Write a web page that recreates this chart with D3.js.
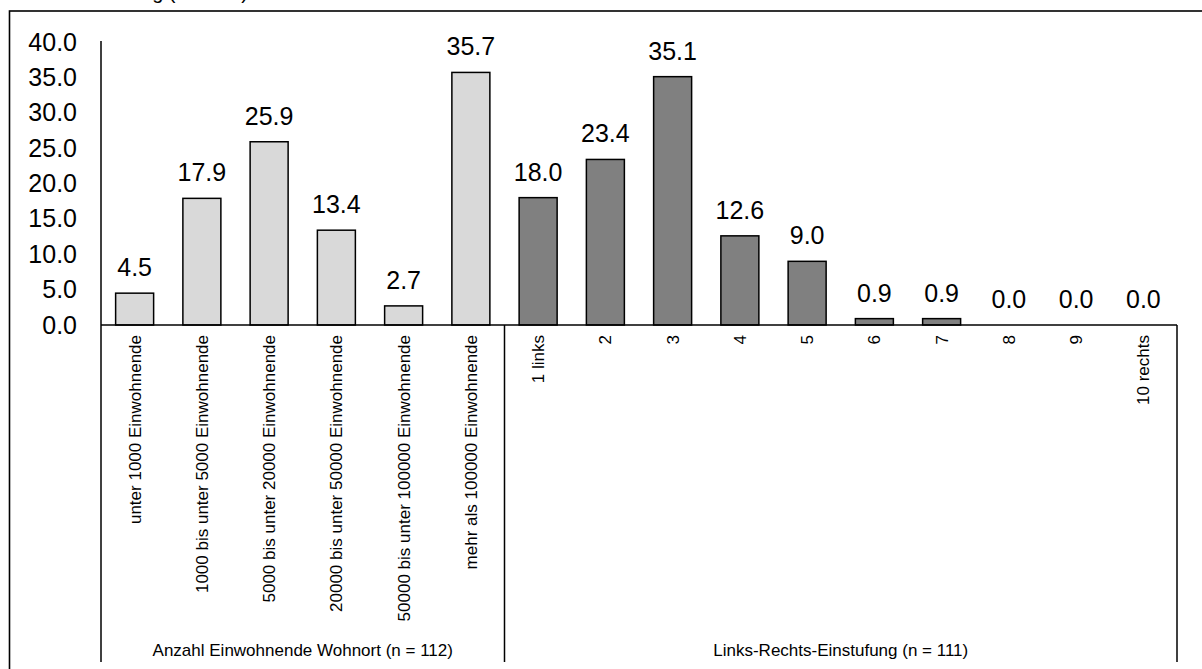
<!DOCTYPE html>
<html>
<head>
<meta charset="utf-8">
<script src="https://cdn.jsdelivr.net/npm/d3@7"></script>
<style>
  html, body { margin: 0; padding: 0; background: #fff; }
  svg { display: block; font-family: Arial, "Liberation Sans", sans-serif; }
</style>
</head>
<body>
<svg id="chart" width="1202" height="669"></svg>
<script>
// Share of respondents (%) by size of place of residence and left-right self-placement
const titleText = "Verteilung (n = 112)";

const wohnortLabel = "Anzahl Einwohnende Wohnort (n = 112)";
const wohnortCategories = [
  "unter 1000 Einwohnende",
  "1000 bis unter 5000 Einwohnende",
  "5000 bis unter 20000 Einwohnende",
  "20000 bis unter 50000 Einwohnende",
  "50000 bis unter 100000 Einwohnende",
  "mehr als 100000 Einwohnende"
];
const wohnortValues = [4.5, 17.9, 25.9, 13.4, 2.7, 35.7];

const einstufungLabel = "Links-Rechts-Einstufung (n = 111)";
const einstufungCategories = ["1 links", "2", "3", "4", "5", "6", "7", "8", "9", "10 rechts"];
const einstufungValues = [18.0, 23.4, 35.1, 12.6, 9.0, 0.9, 0.9, 0.0, 0.0, 0.0];

const yTicks = [0, 5, 10, 15, 20, 25, 30, 35, 40];

const groups = [
  { label: wohnortLabel, cats: wohnortCategories, vals: wohnortValues, fill: "#d9d9d9" },
  { label: einstufungLabel, cats: einstufungCategories, vals: einstufungValues, fill: "#808080" }
];

const rows = [];
groups.forEach((g, gi) => {
  g.cats.forEach((c, i) => rows.push({ key: gi + ":" + i, cat: c, value: g.vals[i], group: gi, fill: g.fill }));
});

const svg = d3.select("#chart");
const plotLeft = 101, plotRight = 1177, baseY = 325, topY = 42, axisBottomY = 662;

const x = d3.scaleBand()
  .domain(rows.map(d => d.key))
  .range([plotLeft, plotRight])
  .paddingInner(0.435)
  .paddingOuter(0.2175);

const y = d3.scaleLinear().domain([0, 40]).range([baseY, topY]);

// outer chart frame
svg.append("rect")
  .attr("x", 9.5).attr("y", 11)
  .attr("width", 1300).attr("height", 700)
  .attr("fill", "none").attr("stroke", "#000").attr("stroke-width", 1.6);

// title sitting above the frame, mostly outside the page
svg.append("text")
  .attr("x", 248).attr("y", -1)
  .attr("text-anchor", "end")
  .attr("font-size", 20)
  .attr("fill", "#000")
  .text(titleText);

// y axis
const yAxis = svg.append("g")
  .attr("transform", `translate(${plotLeft},0)`)
  .call(d3.axisLeft(y).tickValues(yTicks).tickSize(0).tickPadding(24).tickFormat(d3.format(".1f")));
yAxis.select(".domain").remove();
yAxis.selectAll("text")
  .attr("font-size", 25)
  .attr("font-family", "Arial, 'Liberation Sans', sans-serif")
  .attr("fill", "#000");

// bars
svg.append("g").selectAll("rect")
  .data(rows)
  .join("rect")
  .attr("x", d => x(d.key))
  .attr("y", d => y(d.value))
  .attr("width", x.bandwidth())
  .attr("height", d => y(0) - y(d.value))
  .attr("fill", d => d.fill)
  .attr("stroke", "#000")
  .attr("stroke-width", 1.5);

// value labels
svg.append("g").selectAll("text")
  .data(rows)
  .join("text")
  .attr("x", d => x(d.key) + x.bandwidth() / 2)
  .attr("y", d => y(d.value) - 17)
  .attr("text-anchor", "middle")
  .attr("font-size", 25)
  .attr("fill", "#000")
  .text(d => d3.format(".1f")(d.value));

// category axis
const catMap = new Map(rows.map(d => [d.key, d.cat]));
const xAxis = svg.append("g")
  .attr("transform", `translate(0,${baseY})`)
  .call(d3.axisBottom(x).tickSize(0).tickFormat(k => catMap.get(k)));
xAxis.select(".domain").remove();
xAxis.selectAll("text")
  .attr("transform", "rotate(-90)")
  .attr("x", -10)
  .attr("y", 0)
  .attr("dy", "0.35em")
  .attr("text-anchor", "end")
  .attr("font-size", 17)
  .attr("font-family", "Arial, 'Liberation Sans', sans-serif")
  .attr("fill", "#000");

// axis lines and group dividers
const step = x.step();
const gap = step * x.paddingInner() / 2;
const splitX = x(rows.find(d => d.group === 1).key) - gap;
const lines = svg.append("g").attr("stroke", "#000").attr("stroke-width", 1.5);
lines.append("line")
  .attr("x1", plotLeft).attr("x2", plotRight)
  .attr("y1", baseY).attr("y2", baseY);
lines.append("line")
  .attr("x1", plotLeft).attr("x2", plotLeft)
  .attr("y1", y(40) - 1).attr("y2", axisBottomY);
[splitX, plotRight].forEach(xx => {
  lines.append("line")
    .attr("x1", xx).attr("x2", xx)
    .attr("y1", baseY).attr("y2", axisBottomY);
});

// group labels
const spans = [[plotLeft, splitX], [splitX, plotRight]];
svg.append("g").selectAll("text")
  .data(groups)
  .join("text")
  .attr("x", (g, i) => (spans[i][0] + spans[i][1]) / 2)
  .attr("y", 656)
  .attr("text-anchor", "middle")
  .attr("font-size", 17)
  .attr("fill", "#000")
  .text(g => g.label);
</script>
</body>
</html>
